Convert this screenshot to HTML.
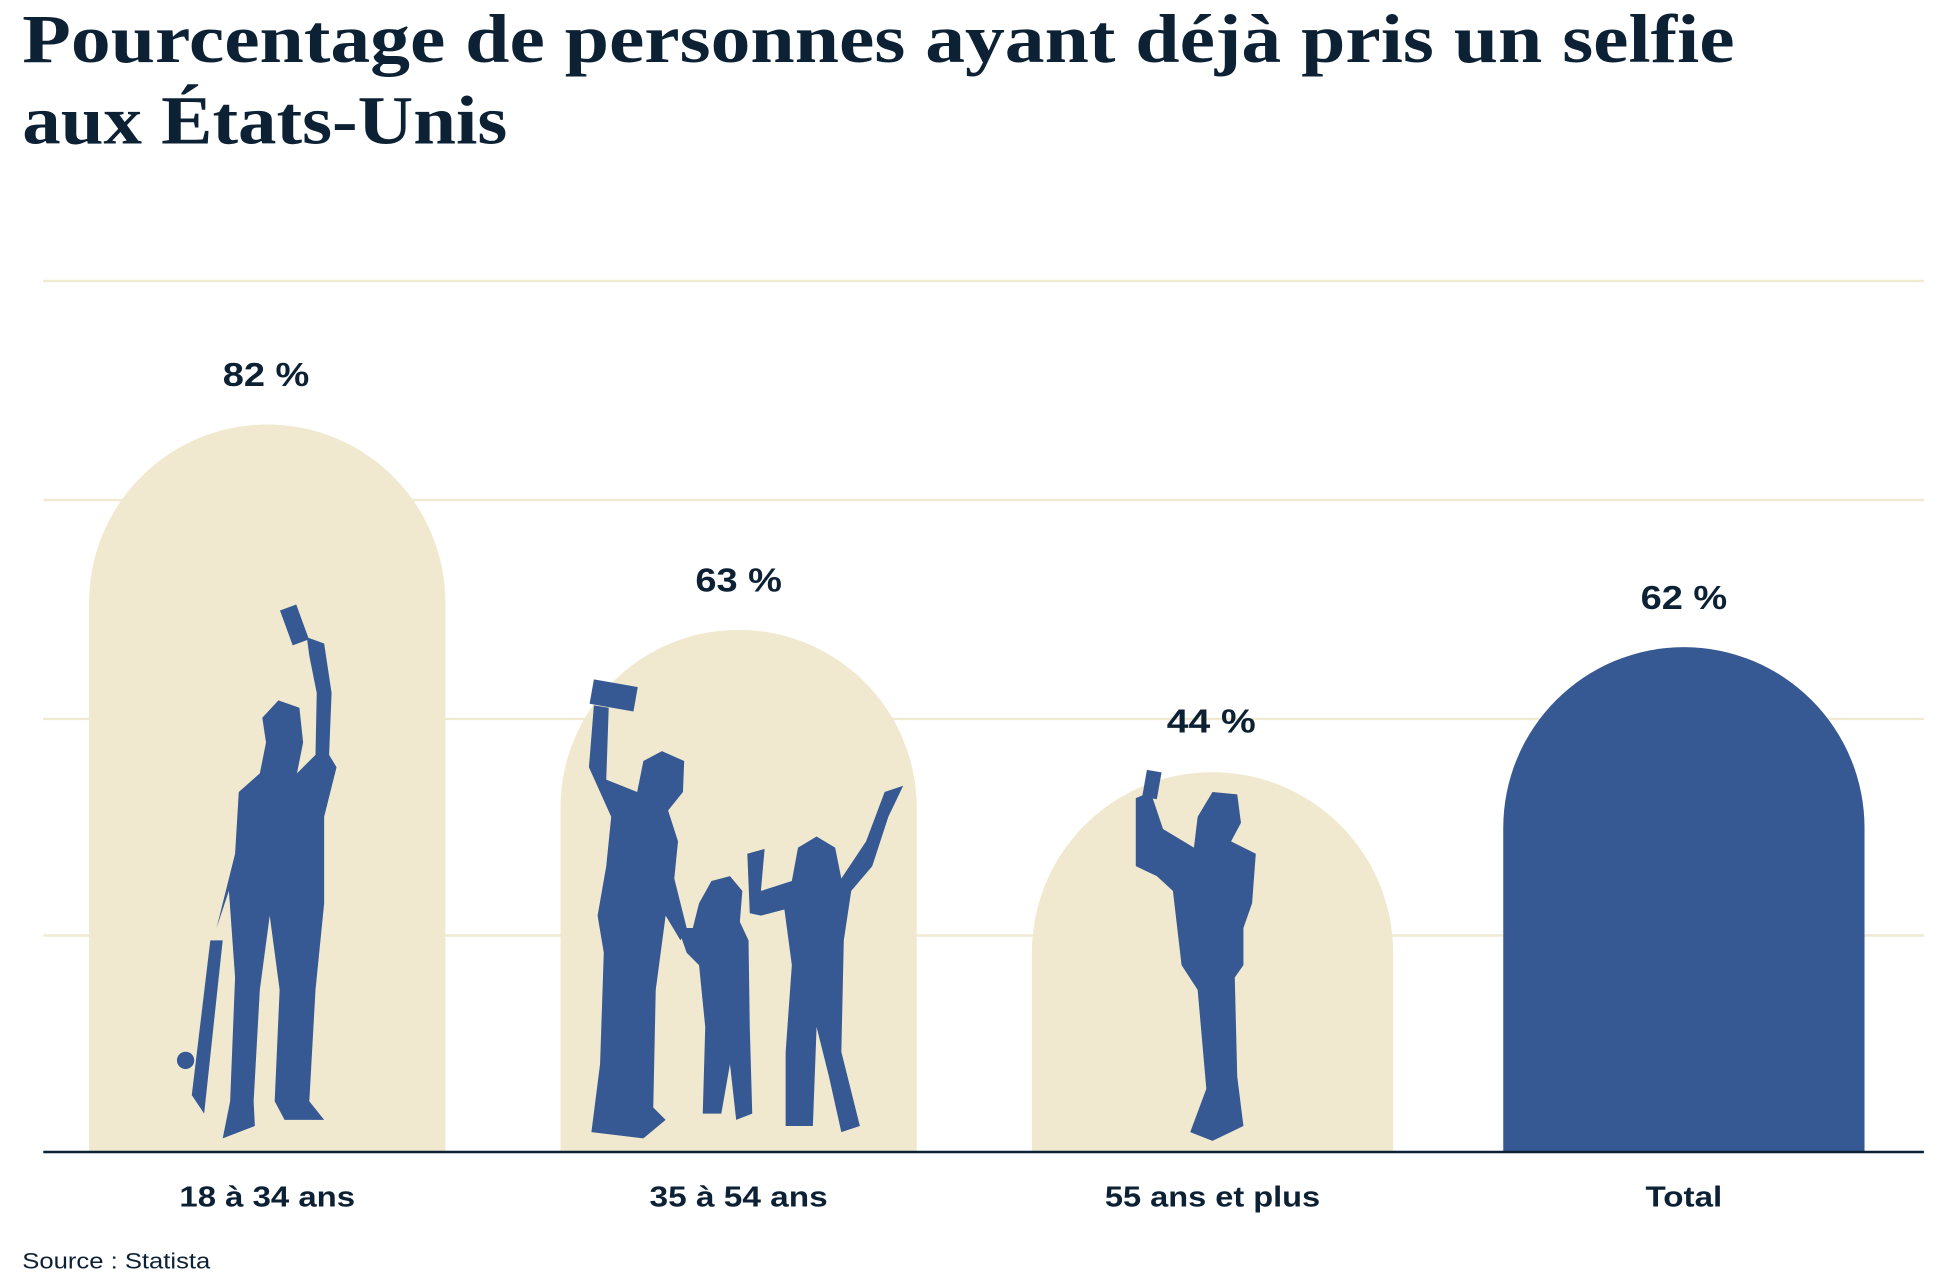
<!DOCTYPE html>
<html><head><meta charset="utf-8"><style>
html,body{margin:0;padding:0;background:#fff;}
svg{display:block;}
</style></head><body>
<svg width="1940" height="1282" viewBox="0 0 1568 1036" xmlns="http://www.w3.org/2000/svg">
<rect width="1568" height="1036" fill="#fff"/>
<g font-family="Liberation Serif, serif" fill="#0d2135" font-size="56" font-weight="bold">
<text x="18" y="50" textLength="1384" lengthAdjust="spacingAndGlyphs">Pourcentage de personnes ayant déjà pris un selfie</text>
<text x="18" y="116" textLength="392" lengthAdjust="spacingAndGlyphs">aux États-Unis</text>
</g>
<g stroke="#f1ead3" stroke-width="2">
<line x1="35" y1="227" x2="1555" y2="227"/>
<line x1="35" y1="404" x2="1555" y2="404"/>
<line x1="35" y1="581" x2="1555" y2="581"/>
<line x1="35" y1="756" x2="1555" y2="756"/>
</g>
<path d="M72 931 V487 A144 144 0 0 1 360 487 V931 Z" fill="#f0e9cf"/>
<path d="M453 931 V653 A144 144 0 0 1 741 653 V931 Z" fill="#f0e9cf"/>
<path d="M834 931 V770 A146 146 0 0 1 1126 770 V931 Z" fill="#f0e9cf"/>
<path d="M1215 931 V669 A146 146 0 0 1 1507 669 V931 Z" fill="#365994"/>
<g fill="#365994">
<rect x="231" y="490" width="14" height="30" transform="rotate(-20 238 505)"/>
<path d="M248 515 L262 520 L268 560 L266 610 L272 620 L262 660 L262 730 L255 800 L250 890 L262 905 L230 905 L222 890 L226 800 L218 740 L210 800 L205 890 L206 910 L180 920 L186 890 L190 790 L185 720 L175 750 L190 690 L193 640 L210 625 L215 600 L212 580 L225 566 L242 572 L245 600 L240 625 L255 610 L256 560 L250 530 Z"/>
<path d="M170 760 L180 760 L165 900 L155 885 Z"/>
<circle cx="150" cy="857" r="7"/>
<rect x="478" y="552" width="36" height="20" transform="rotate(10 496 562)"/>
<path d="M480 570 L492 572 L490 630 L515 640 L520 615 L535 607 L553 615 L552 640 L540 655 L548 680 L545 710 L555 750 L550 760 L538 740 L530 800 L528 895 L538 905 L520 920 L478 915 L485 860 L488 770 L483 740 L490 700 L494 660 L476 620 Z"/>
<path d="M575 712 L590 708 L600 720 L598 745 L605 760 L606 830 L608 900 L595 905 L590 860 L583 900 L568 900 L570 830 L565 780 L555 770 L548 750 L560 750 L565 730 Z"/>
<path d="M604 690 L618 686 L615 720 L640 712 L645 685 L660 676 L675 685 L680 710 L700 680 L715 640 L730 635 L718 660 L705 700 L688 720 L682 760 L680 850 L695 910 L680 915 L670 870 L660 830 L657 910 L635 910 L635 850 L640 780 L634 735 L615 740 L606 738 Z"/>
<rect x="925" y="623" width="12" height="22" transform="rotate(10 931 634)"/>
<path d="M918 645 L930 640 L940 670 L965 685 L968 660 L980 640 L1000 642 L1003 665 L995 680 L1015 690 L1012 730 L1005 750 L1005 780 L998 790 L1000 870 L1005 910 L980 922 L962 915 L975 880 L968 800 L955 780 L948 720 L935 708 L918 700 L918 670 Z"/>
</g>
<g font-family="Liberation Sans, sans-serif" font-weight="bold" fill="#0d2135" font-size="27" text-anchor="middle">
<text x="215" y="312" textLength="70" lengthAdjust="spacingAndGlyphs">82 %</text>
<text x="597" y="478" textLength="70" lengthAdjust="spacingAndGlyphs">63 %</text>
<text x="979" y="592" textLength="72" lengthAdjust="spacingAndGlyphs">44 %</text>
<text x="1361" y="492" textLength="70" lengthAdjust="spacingAndGlyphs">62 %</text>
</g>
<line x1="35" y1="931" x2="1555" y2="931" stroke="#0d2135" stroke-width="2"/>
<g font-family="Liberation Sans, sans-serif" fill="#0d2135" font-size="23" text-anchor="middle" font-weight="bold">
<text x="216" y="975" textLength="142" lengthAdjust="spacingAndGlyphs">18 à 34 ans</text>
<text x="597" y="975" textLength="144" lengthAdjust="spacingAndGlyphs">35 à 54 ans</text>
<text x="980" y="975" textLength="174" lengthAdjust="spacingAndGlyphs">55 ans et plus</text>
<text x="1361" y="975" textLength="62" lengthAdjust="spacingAndGlyphs">Total</text>
</g>
<text x="18" y="1025" font-family="Liberation Sans, sans-serif" fill="#0d2135" font-size="18" textLength="152" lengthAdjust="spacingAndGlyphs">Source : Statista</text>
</svg>
</body></html>
